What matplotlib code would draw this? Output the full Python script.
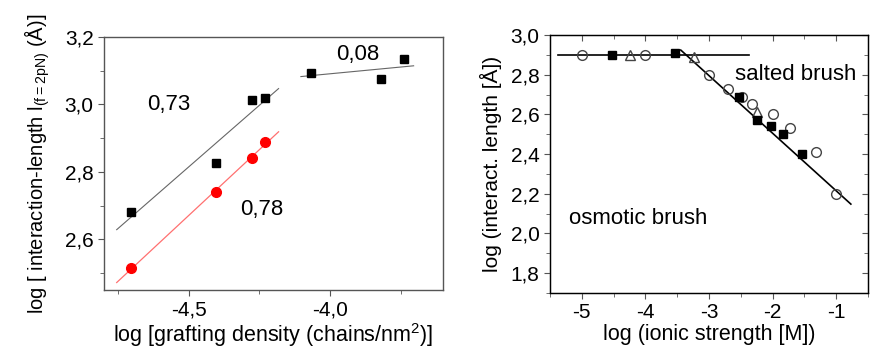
import numpy as np
import matplotlib.pyplot as plt
from matplotlib.ticker import MultipleLocator, FuncFormatter

plt.rcParams['font.family'] = ['Liberation Sans', 'DejaVu Sans']
plt.rcParams['mathtext.fontset'] = 'custom'
plt.rcParams['mathtext.rm'] = 'Liberation Sans'

# --- grafting density data (log-log) ---
graft_x = [-4.705, -4.402, -4.277, -4.230, -4.068, -3.819, -3.737]
graft_y = [2.682, 2.826, 3.013, 3.020, 3.094, 3.075, 3.136]
graft_red_x = [-4.705, -4.402, -4.277, -4.230]
graft_red_y = [2.514, 2.741, 2.841, 2.890]

# power-law fits: slope, intercept, x-range
fit_black = (0.73, 6.100, [-4.755, -4.182])
fit_red = (0.78, 6.181, [-4.755, -4.182])
fit_top = (0.08, 3.411, [-4.103, -3.704])

# --- ionic strength data ---
ion_circ_x = [-5.0, -4.0, -3.0, -2.70, -2.48, -2.32, -2.0, -1.72, -1.32, -1.0]
ion_circ_y = [2.90, 2.90, 2.80, 2.73, 2.69, 2.65, 2.60, 2.53, 2.41, 2.20]
ion_tri_x = [-4.25, -3.24, -2.24]
ion_tri_y = [2.90, 2.89, 2.61]
ion_sq_x = [-4.52, -3.53, -2.53, -2.24, -2.02, -1.84, -1.54]
ion_sq_y = [2.90, 2.91, 2.69, 2.57, 2.54, 2.50, 2.40]

osmotic_line = ([-5.376, -2.373], [2.90, 2.90])
salted_line = ([-3.444, -0.770], [2.924, 2.148])

comma = FuncFormatter(lambda v, p: ('%.1f' % v).replace('.', ','))
comma0 = FuncFormatter(lambda v, p: '%d' % round(v))

fig = plt.figure(figsize=(8.76, 3.47), dpi=100)
ax1 = fig.add_axes([0.1187, 0.1643, 0.387, 0.729])
ax2 = fig.add_axes([0.6279, 0.1556, 0.363, 0.7435])

spine_col = '#555555'
for ax in (ax1, ax2):
    for s in ax.spines.values():
        s.set_color(spine_col)
        s.set_linewidth(1.0)
    ax.tick_params(which='both', colors=spine_col, labelcolor='black', labelsize=15)
    ax.tick_params(which='major', length=4)
    ax.tick_params(which='minor', length=3)

# left panel
xs = np.array(fit_black[2])
ax1.plot(xs, fit_black[0] * xs + fit_black[1], color='#666666', lw=0.8)
xs = np.array(fit_red[2])
ax1.plot(xs, fit_red[0] * xs + fit_red[1], color='#ff7070', lw=0.9)
xs = np.array(fit_top[2])
ax1.plot(xs, fit_top[0] * xs + fit_top[1], color='#666666', lw=0.8)
ax1.plot(graft_x, graft_y, 's', color='black', ms=6)
ax1.plot(graft_red_x, graft_red_y, 'o', color='#ff0000', ms=7)

ax1.text(-4.57, 3.0, '0,73', fontsize=16, ha='center', va='center')
ax1.text(-4.24, 2.69, '0,78', fontsize=16, ha='center', va='center')
ax1.text(-3.90, 3.148, '0,08', fontsize=16, ha='center', va='center')

ax1.set_xlim(-4.8, -3.6)
ax1.set_ylim(2.45, 3.2)
ax1.xaxis.set_major_locator(MultipleLocator(0.5))
ax1.xaxis.set_minor_locator(MultipleLocator(0.25))
ax1.yaxis.set_major_locator(MultipleLocator(0.2))
ax1.yaxis.set_minor_locator(MultipleLocator(0.1))
ax1.xaxis.set_major_formatter(comma)
ax1.yaxis.set_major_formatter(comma)
ax1.tick_params(which='both', direction='out', top=False, right=False)
ax1.set_xlabel(r'log [grafting density (chains/nm$^2$)]', fontsize=15.5, labelpad=1)
ax1.set_ylabel(r'log [ interaction-length l$_{\mathregular{(f=2pN)}}$ (Å)]',
               fontsize=14.5, labelpad=9)

# right panel
ax2.plot(*osmotic_line, color='black', lw=1.2)
ax2.plot(*salted_line, color='black', lw=1.2)
ax2.plot(ion_circ_x, ion_circ_y, 'o', mfc='none', mec='#444444', mew=1.0, ms=7)
ax2.plot(ion_tri_x, ion_tri_y, '^', mfc='none', mec='#444444', mew=1.0, ms=7)
ax2.plot(ion_sq_x, ion_sq_y, 's', color='black', ms=6)

ax2.text(-1.64, 2.80, 'salted brush', fontsize=16, ha='center', va='center')
ax2.text(-4.11, 2.075, 'osmotic brush', fontsize=16, ha='center', va='center')

ax2.set_xlim(-5.5, -0.5)
ax2.set_ylim(1.7, 3.0)
ax2.xaxis.set_major_locator(MultipleLocator(1))
ax2.xaxis.set_minor_locator(MultipleLocator(0.5))
ax2.yaxis.set_major_locator(MultipleLocator(0.2))
ax2.yaxis.set_minor_locator(MultipleLocator(0.1))
ax2.xaxis.set_major_formatter(comma0)
ax2.yaxis.set_major_formatter(comma)
ax2.tick_params(which='both', direction='out')

# inward ticks on the top and right frame
ax2_top = ax2.twiny()
ax2_top.set_xlim(ax2.get_xlim())
ax2_top.xaxis.set_major_locator(MultipleLocator(1))
ax2_top.xaxis.set_minor_locator(MultipleLocator(0.5))
ax2_top.tick_params(which='both', direction='in', labeltop=False, colors=spine_col)
ax2_right = ax2.twinx()
ax2_right.set_ylim(ax2.get_ylim())
ax2_right.yaxis.set_major_locator(MultipleLocator(0.2))
ax2_right.yaxis.set_minor_locator(MultipleLocator(0.1))
ax2_right.tick_params(which='both', direction='in', labelright=False, colors=spine_col)
for a in (ax2_top, ax2_right):
    a.tick_params(which='major', length=4)
    a.tick_params(which='minor', length=3)

ax2.set_xlabel('log (ionic strength [M])', fontsize=15.5, labelpad=1)
ax2.set_ylabel('log (interact. length [Å])', fontsize=15, labelpad=6)

fig.savefig('out.png', dpi=100)
